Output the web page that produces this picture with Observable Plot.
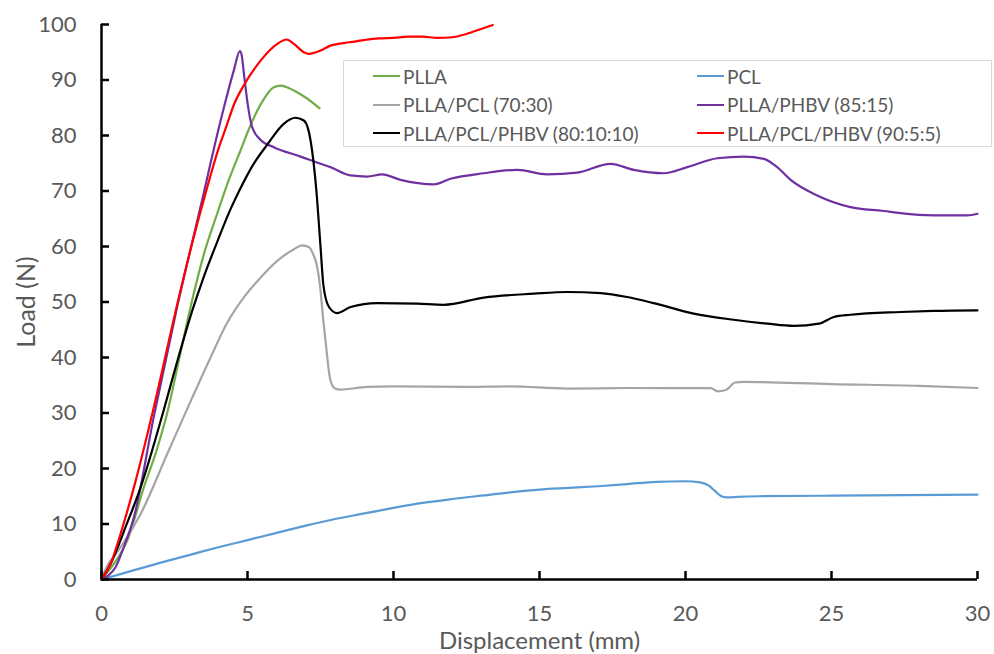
<!DOCTYPE html>
<html><head><meta charset="utf-8">
<script src="https://cdn.jsdelivr.net/npm/d3@7"></script>
<script src="https://cdn.jsdelivr.net/npm/@observablehq/plot@0.6"></script>
<style>
body{margin:0;background:#fff;}
#wrap{position:relative;width:994px;height:654px;overflow:hidden;background:#fff;}
#legend{position:absolute;left:343px;top:60px;width:647px;height:85px;border:1px solid #D9D9D9;background:#fff;font-family:Lato,sans-serif;font-size:19px;color:#595959;}
.item{position:absolute;display:flex;align-items:center;height:28px;white-space:nowrap;}
.swatch{width:27px;height:0;border-top:2.5px solid;margin-right:3px;}
</style></head><body><div id="wrap"></div>
<script>
const xTicks = [0, 5, 10, 15, 20, 25, 30];
const yTicks = [0, 10, 20, 30, 40, 50, 60, 70, 80, 90, 100];
const seriesNames = ["PLLA", "PCL", "PLLA/PCL (70:30)", "PLLA/PHBV (85:15)", "PLLA/PCL/PHBV (80:10:10)", "PLLA/PCL/PHBV (90:5:5)"];
const seriesColors = ["#70AD47", "#5B9BD5", "#A5A5A5", "#7030A0", "#000000", "#FF0000"];

const plla = [[0,0],[0.42,2.8],[0.88,7.0],[1.45,16.6],[1.9,23.5],[2.25,30.0],[2.65,39.5],[3.05,49.1],[3.5,58.5],[3.96,65.9],[4.36,72.0],[4.76,77.3],[5.1,81.8],[5.45,85.6],[5.9,88.7],[6.13,89.0],[6.59,88.1],[7.0,86.8],[7.47,84.9]];
const pcl = [[0,0],[1,1.5],[2,3],[3,4.4],[4,5.8],[5,7.1],[6,8.4],[7,9.7],[8,10.9],[9,11.9],[10,12.9],[11,13.8],[12,14.5],[13,15.1],[14,15.7],[15,16.2],[16,16.5],[17,16.8],[18,17.2],[19,17.6],[20,17.7],[20.5,17.5],[20.8,16.9],[21.0,16.0],[21.2,15.1],[21.4,14.8],[21.8,14.9],[22.5,15.0],[25,15.1],[27.5,15.2],[30,15.3]];
const pllaPcl = [[0,0],[0.2,2.5],[0.4,4.0],[0.65,5.8],[1.34,11.8],[2.25,22.6],[3.0,31.5],[3.7,39.6],[4.3,46.2],[4.9,51.0],[5.5,54.7],[6.02,57.4],[6.59,59.5],[6.87,60.2],[7.1,59.9],[7.25,58.6],[7.38,56.5],[7.5,52.1],[7.59,47],[7.67,43.1],[7.84,35.9],[8.0,34.4],[8.18,34.2],[9.1,34.7],[10,34.8],[12.5,34.7],[14,34.8],[15.95,34.4],[18,34.5],[20.86,34.5],[21.1,33.9],[21.4,34.2],[21.7,35.5],[22,35.6],[25,35.2],[28,34.9],[30,34.5]];
const pllaPhbv = [[0,0],[0.25,0.8],[0.48,2.2],[0.76,5.8],[1.11,11.2],[1.79,29.3],[2.59,49.1],[3.39,67.1],[4.08,82.7],[4.53,91.7],[4.74,95.2],[4.8,94.5],[4.88,91],[4.99,86.3],[5.16,81.5],[5.45,79.2],[5.9,77.9],[6.82,76.2],[7.5,74.9],[7.84,74.3],[8.53,72.8],[9.1,72.6],[9.61,73.0],[10.24,72.0],[11.38,71.2],[11.95,72.2],[13.09,73.2],[14.24,73.8],[15.26,73.0],[16.29,73.3],[17.43,74.9],[18.23,73.8],[19.26,73.2],[20.06,74.3],[21.09,75.9],[22.0,76.2],[22.68,75.8],[23.14,74.3],[23.6,72.0],[24.51,69.2],[25.65,67.1],[26.79,66.4],[27.36,66.0],[28.5,65.6],[29.65,65.6],[30,65.9]];
const ternary801010 = [[0,0],[0.31,2.8],[0.82,9.4],[1.34,16.6],[2.13,30.5],[2.6,39.4],[3.1,48.3],[3.5,54.5],[3.96,60.8],[4.4,66.5],[4.76,70.5],[5.2,74.8],[5.67,78.3],[6.24,82.1],[6.64,83.2],[6.93,82.7],[7.16,79.1],[7.36,70],[7.5,60],[7.6,53],[7.79,49.1],[8.07,48.0],[8.53,49.1],[9.44,49.8],[10.81,49.7],[11.72,49.5],[13.09,50.8],[14.81,51.5],[15.95,51.8],[17.09,51.6],[18.0,50.9],[18.91,49.8],[20.28,47.9],[21.65,46.8],[22.8,46.1],[23.71,45.7],[24.57,46.1],[25.08,47.3],[25.65,47.7],[27.36,48.2],[28.5,48.4],[30,48.5]];
const ternary9055 = [[0,0],[0.31,2.8],[0.65,8.2],[1.11,16.6],[1.79,31.0],[2.59,49.5],[3.1,60.5],[3.6,70.3],[4.0,77.5],[4.3,82.0],[4.53,85.5],[4.87,89.0],[5.45,93.5],[6.02,96.5],[6.34,97.3],[6.59,96.5],[6.93,95.0],[7.1,94.7],[7.5,95.3],[7.84,96.2],[8.5,96.8],[9,97.2],[9.5,97.5],[10,97.6],[10.5,97.8],[11,97.8],[11.5,97.6],[12,97.7],[12.5,98.3],[13,99.2],[13.4,99.9]];

const seriesData = [plla, pcl, pllaPcl, pllaPhbv, ternary801010, ternary9055];
const rows = seriesData.flatMap((pts, i) => pts.map(([x, y]) => ({series: seriesNames[i], x, y})));

const chart = Plot.plot({
  width: 994, height: 654,
  marginLeft: 101, marginRight: 17, marginTop: 24, marginBottom: 75,
  style: {fontFamily: "Lato, sans-serif", fontSize: "22px", color: "#595959", background: "#fff", overflow: "visible"},
  x: {domain: [0, 30]},
  y: {domain: [0, 100]},
  color: {domain: seriesNames, range: seriesColors},
  marks: [
    Plot.axisX({ticks: xTicks, tickSize: 0, tickPadding: 26, label: null, tickFormat: d => String(d)}),
    Plot.axisY({ticks: yTicks, tickSize: 0, tickPadding: 25, label: null, tickFormat: d => String(d)}),
    Plot.line(rows, {x: "x", y: "y", z: "series", stroke: "series", strokeWidth: 2.2, curve: "monotone-x"}),
    Plot.ruleX(xTicks, {stroke: "#000", strokeWidth: 2.5, insetTop: 547}),
    Plot.ruleY(yTicks, {stroke: "#000", strokeWidth: 2.5, insetRight: 868}),
    Plot.ruleY([0], {stroke: "#000", strokeWidth: 2.5}),
    Plot.ruleX([0], {stroke: "#000", strokeWidth: 2.5}),
    Plot.text(["Displacement (mm)"], {frameAnchor: "bottom", dy: 62.2, lineAnchor: "middle", textAnchor: "middle", fill: "#595959", fontSize: 24}),
    Plot.text(["Load (N)"], {frameAnchor: "left", dx: -75, rotate: -90, lineAnchor: "middle", textAnchor: "middle", fill: "#595959", fontSize: 25})
  ]
});

const wrap = document.getElementById("wrap");
wrap.appendChild(chart);

const legend = document.createElement("div");
legend.id = "legend";
const colLeft = [29, 353];
const rowTop = [1, 29.5, 58];
seriesNames.forEach((name, i) => {
  const item = document.createElement("div");
  item.className = "item";
  item.style.left = colLeft[i % 2] + "px";
  item.style.top = rowTop[Math.floor(i / 2)] + "px";
  const sw = document.createElement("span");
  sw.className = "swatch";
  sw.style.borderTopColor = seriesColors[i];
  const tx = document.createElement("span");
  tx.textContent = name;
  item.appendChild(sw);
  item.appendChild(tx);
  legend.appendChild(item);
});
wrap.appendChild(legend);
</script></body></html>
